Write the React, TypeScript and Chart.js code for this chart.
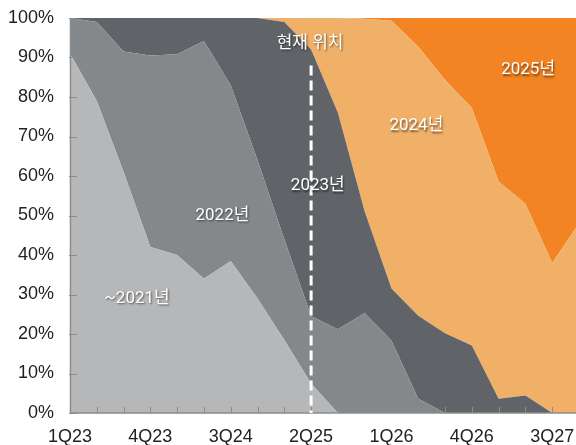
import React, { useEffect, useRef } from "react";
import { Chart, registerables } from "chart.js";

Chart.register(...registerables);

const quarters = [
  "1Q23", "2Q23", "3Q23", "4Q23",
  "1Q24", "2Q24", "3Q24", "4Q24",
  "1Q25", "2Q25", "3Q25", "4Q25",
  "1Q26", "2Q26", "3Q26", "4Q26",
  "1Q27", "2Q27", "3Q27", "4Q27",
];

const yTicks = [0, 10, 20, 30, 40, 50, 60, 70, 80, 90, 100];

const seriesNames = ["~2021년", "2022년", "2023년", "2024년", "2025년"];

const s2021 = [91, 79, 61, 42, 40, 34, 38.5, 29, 18.5, 7.5, 0, 0, 0, 0, 0, 0, 0, 0, 0, 0];
const s2022 = [9, 20, 30.5, 48.5, 50.8, 60.2, 44.5, 35, 25.5, 17, 21.2, 25.3, 18.3, 3.6, 0, 0, 0, 0, 0, 0];
const s2023 = [0, 1, 8.5, 9.5, 9.2, 5.8, 17, 36, 55, 67.5, 54.8, 25.7, 13.2, 21, 20.2, 17.1, 3.6, 4.4, 0, 0];
const s2024 = [0, 0, 0, 0, 0, 0, 0, 0, 1, 8, 24, 48.8, 67.8, 68.1, 64.1, 60.1, 55, 48.6, 38, 48];
const s2025 = [0, 0, 0, 0, 0, 0, 0, 0, 0, 0, 0, 0.2, 0.7, 7.3, 15.7, 22.8, 41.4, 47, 62, 52];

const colors = ["#B6B7B9", "#85888B", "#606468", "#F0B068", "#F28424"];

const currentIndex = 9; // 2Q25
const currentLabel = "현재 위치";

// label anchors: [quarter index (fractional), value %]
const labelAnchors: [number, number][] = [
  [2.5, 29],
  [5.69, 50],
  [9.25, 57.5],
  [12.93, 72.7],
  [17.1, 86.8],
];

export default function App() {
  const ref = useRef<HTMLCanvasElement | null>(null);

  useEffect(() => {
    const canvas = ref.current;
    if (!canvas) return;
    const all = [s2021, s2022, s2023, s2024, s2025];

    const overlay = {
      id: "overlay",
      afterDatasetsDraw(chart: any) {
        const { ctx, chartArea, scales } = chart;
        const xs = scales.x;
        const ys = scales.y;
        ctx.save();
        // axes
        ctx.strokeStyle = "#8c8c8c";
        ctx.lineWidth = 1.5;
        ctx.beginPath();
        ctx.moveTo(chartArea.left + 0.5, chartArea.top);
        ctx.lineTo(chartArea.left + 0.5, chartArea.bottom);
        ctx.lineTo(chartArea.right, chartArea.bottom);
        ctx.stroke();
        ctx.lineWidth = 1;
        yTicks.forEach((v) => {
          const y = Math.round(ys.getPixelForValue(v)) + 0.5;
          ctx.beginPath();
          ctx.moveTo(chartArea.left - 1, y);
          ctx.lineTo(chartArea.left + 7, y);
          ctx.stroke();
        });
        quarters.forEach((_, i) => {
          const x = Math.round(xs.getPixelForValue(i)) + 0.5;
          ctx.beginPath();
          ctx.moveTo(x, chartArea.bottom);
          ctx.lineTo(x, chartArea.bottom - 6);
          ctx.stroke();
        });
        // current position dashed line
        const cx = xs.getPixelForValue(currentIndex);
        ctx.strokeStyle = "#ffffff";
        ctx.lineWidth = 3;
        ctx.setLineDash([10, 5]);
        ctx.beginPath();
        ctx.moveTo(cx, ys.getPixelForValue(88));
        ctx.lineTo(cx, chartArea.bottom);
        ctx.stroke();
        ctx.setLineDash([]);

        // labels
        ctx.font = "17px Roboto, 'Noto Sans CJK KR', sans-serif";
        ctx.textAlign = "center";
        ctx.textBaseline = "middle";
        ctx.shadowColor = "rgba(0,0,0,0.55)";
        ctx.shadowOffsetX = 1;
        ctx.shadowOffsetY = 1.5;
        ctx.shadowBlur = 2;
        ctx.fillStyle = "#ffffff";
        ctx.fillText(currentLabel, cx - 1, ys.getPixelForValue(93.6));
        seriesNames.forEach((name, i) => {
          const [qi, v] = labelAnchors[i];
          ctx.fillText(name, xs.getPixelForValue(qi), ys.getPixelForValue(v));
        });
        ctx.restore();
      },
    };

    const chart = new Chart(canvas, {
      type: "line",
      data: {
        labels: quarters,
        datasets: all.map((d, i) => ({
          label: seriesNames[i],
          data: d,
          backgroundColor: colors[i],
          borderColor: colors[i],
          borderWidth: 0,
          pointRadius: 0,
          tension: 0,
          fill: i === 0 ? "origin" : "-1",
        })),
      },
      options: {
        animation: false,
        responsive: false,
        layout: { padding: { top: 18, right: 0, bottom: 0, left: 0 } },
        plugins: {
          legend: { display: false },
          tooltip: { enabled: false },
          filler: { propagate: false },
        },
        scales: {
          x: {
            type: "category",
            offset: false,
            grid: { display: false, drawTicks: false },
            border: { display: false },
            afterFit: (s: any) => {
              s.height = 32;
              s.paddingRight = 0;
              s.paddingLeft = 0;
            },
            ticks: {
              autoSkip: false,
              maxRotation: 0,
              minRotation: 0,
              padding: 13,
              color: "#222222",
              font: { family: "'Liberation Sans', Arial, sans-serif", size: 18 },
              callback: (_v: any, i: number) => (i % 3 === 0 ? quarters[i] : ""),
            },
          },
          y: {
            stacked: true,
            min: 0,
            max: 100,
            grid: { display: false, drawTicks: false },
            border: { display: false },
            afterFit: (s: any) => {
              s.width = 70;
              s.paddingTop = 0;
              s.paddingBottom = 0;
            },
            ticks: {
              stepSize: 10,
              padding: 16,
              color: "#222222",
              font: { family: "'Liberation Sans', Arial, sans-serif", size: 18 },
              callback: (v: any) => v + "%",
            },
          },
        },
      },
      plugins: [overlay],
    } as any);

    return () => chart.destroy();
  }, []);

  return (
    <div
      style={{
        position: "absolute",
        left: 0,
        top: 0,
        width: 576,
        height: 445,
        overflow: "hidden",
        background: "#ffffff",
      }}
    >
      <canvas ref={ref} width={579} height={445} style={{ width: 579, height: 445, display: "block" }} />
    </div>
  );
}
